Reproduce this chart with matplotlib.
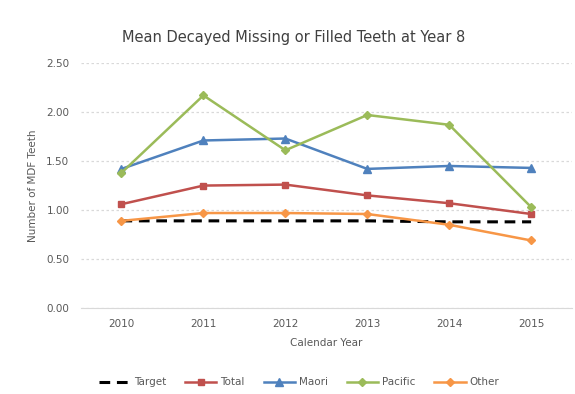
import matplotlib.pyplot as plt

# Mean DMF teeth at Year 8 by ethnicity, 2010-2015
years = ['2010', '2011', '2012', '2013', '2014', '2015']
target = [0.89, 0.89, 0.89, 0.89, 0.88, 0.88]
total = [1.06, 1.25, 1.26, 1.15, 1.07, 0.96]
maori = [1.42, 1.71, 1.73, 1.42, 1.45, 1.43]
pacific = [1.38, 2.17, 1.61, 1.97, 1.87, 1.03]
other = [0.89, 0.97, 0.97, 0.96, 0.85, 0.69]

x = range(len(years))

fig = plt.figure(figsize=(5.75, 3.94), dpi=100)
ax = fig.add_axes([0.14, 0.218, 0.855, 0.622])

ax.plot(x, target, color='black', linestyle=(0, (3.5, 2.2)), linewidth=2.2, label='Target')
ax.plot(x, total, color='#C0504D', linewidth=1.8, marker='s', markersize=5, label='Total')
ax.plot(x, maori, color='#4F81BD', linewidth=1.8, marker='^', markersize=6, label='Maori')
ax.plot(x, pacific, color='#9BBB59', linewidth=1.8, marker='D', markersize=4.5, label='Pacific')
ax.plot(x, other, color='#F79646', linewidth=1.8, marker='D', markersize=4.5, label='Other')

ax.set_xlim(-0.5, len(years) - 0.5)
ax.set_ylim(0, 2.5)
ax.set_xticks(list(x))
ax.set_xticklabels(years)
ax.set_yticks([0, 0.5, 1.0, 1.5, 2.0, 2.5])
ax.set_yticklabels(['0.00', '0.50', '1.00', '1.50', '2.00', '2.50'])
ax.tick_params(colors='#595959', labelsize=7.5, length=0, pad=8)

ax.grid(axis='y', color='#D9D9D9', linestyle=(0, (2, 2)), linewidth=0.9)
for side in ['top', 'right', 'left']:
    ax.spines[side].set_visible(False)
ax.spines['bottom'].set_color('#D9D9D9')

fig.text(0.51, 0.905, 'Mean Decayed Missing or Filled Teeth at Year 8',
         ha='center', va='center', fontsize=10.5, color='#404040')
ax.set_ylabel('Number of MDF Teeth', fontsize=7.5, color='#595959', labelpad=6)
ax.set_xlabel('Calendar Year', fontsize=7.5, color='#595959', labelpad=6)

fig.legend(loc='center', bbox_to_anchor=(0.52, 0.03), ncol=5, frameon=False,
           fontsize=7.5, labelcolor='#595959', handlelength=3.0, columnspacing=1.8,
           handletextpad=0.4)

fig.savefig('out.png', dpi=100, facecolor='white')
